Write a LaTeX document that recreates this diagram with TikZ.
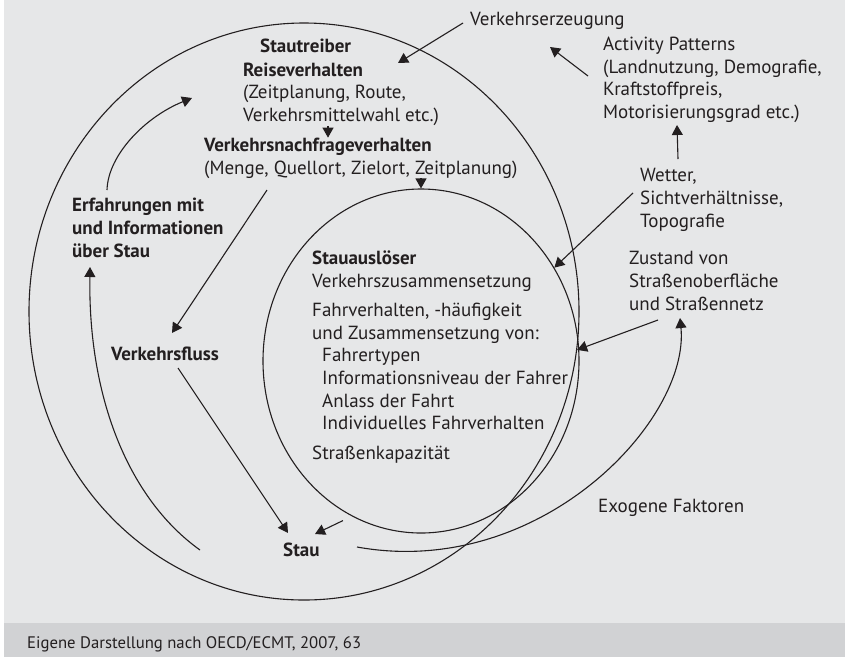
\documentclass[tikz,border=0pt]{standalone}
\usepackage{fontspec}
\setmainfont{PT Sans}
\usetikzlibrary{positioning,shapes.geometric,arrows.meta}
\definecolor{bggray}{HTML}{E6E7E8}
\definecolor{footgray}{HTML}{D1D2D4}
\definecolor{ink}{HTML}{231F20}
\begin{document}
\begin{tikzpicture}[x=1pt,y=-1pt,
  lbl/.style={inner sep=0pt,anchor=base west,align=left,text=ink,font=\fontsize{19}{22.7}\selectfont},
  hd/.style={lbl,font=\fontsize{19}{22.7}\selectfont\bfseries},
  ring/.style={ellipse,draw=ink,line width=1.1pt,inner sep=0pt},
  arr/.style={draw=ink,line width=1.1pt,-{Triangle[length=10pt,width=11pt]}}]
\useasboundingbox (0,0) rectangle (845,657);
\fill[bggray] (4,0) rectangle (845,623);
\fill[footgray] (4,623) rectangle (845,657);
\node[ring,minimum width=550pt,minimum height=577pt](outer) at (304,311.5){};
\node[ring,minimum width=316pt,minimum height=344pt](inner) at (421,361){};
\node[hd](treiber) at (260,52){Stautreiber};
\node[lbl](reise) at (243,121.5){\textbf{Reiseverhalten}\\(Zeitplanung, Route,\\Verkehrsmittelwahl etc.)};
\node[lbl](nachfrage) at (204,174){\textbf{Verkehrsnachfrageverhalten}\\(Menge, Quellort, Zielort, Zeitplanung)};
\node[hd](erfahrung) at (72,257){Erfahrungen mit\\und Informationen\\über Stau};
\node[hd](fluss) at (111,360){Verkehrsfluss};
\node[hd](stau) at (283,556){Stau};
\node[lbl](ausloeser) at (312,459){\textbf{Stauauslöser}\\Verkehrszusammensetzung\\[6.5pt]Fahrverhalten, -häufigkeit\\und Zusammensetzung von:\\\hspace*{10pt}Fahrertypen\\\hspace*{10pt}Informationsniveau der Fahrer\\\hspace*{10pt}Anlass der Fahrt\\\hspace*{10pt}Individuelles Fahrverhalten\\[6.5pt]Straßenkapazität};
\node[lbl](erzeugung) at (470,25){Verkehrserzeugung};
\node[lbl](activity) at (603,118.5){Activity Patterns\\(Landnutzung, Demografie,\\Kraftstoffpreis,\\Motorisierungsgrad etc.)};
\node[lbl](wetter) at (640,227){Wetter,\\Sichtverhältnisse,\\Topografie};
\node[lbl](zustand) at (629,310){Zustand von\\Straßenoberfläche\\und Straßennetz};
\node[lbl](exogen) at (598,512){Exogene Faktoren};
\node[lbl,font=\fontsize{16.7}{20}\selectfont](quelle) at (27,648){Eigene Darstellung nach OECD/ECMT, 2007, 63};
\coordinate (treiberin) at (398,63);
\draw[arr] ([shift={(-7,-2)}]erzeugung.base west) -- (treiberin);
\draw[arr] ([shift={(-15,-42.5)}]activity.base west) -- ([shift={(80,22)}]erzeugung.base west);
\draw[arr] ([shift={(38,-68)}]wetter.base west) -- ([shift={(74,6.5)}]activity.base west);
\draw[arr] ([shift={(-7,-34)}]wetter.base west) -- (inner.35);
\draw[arr] ([shift={(29,10)}]zustand.base west) -- (outer.-8);
\draw[arr] ([shift={(74,-9)}]stau.base west) .. controls +(183,33) and +(10,102) .. ([shift={(51,8)}]zustand.base west);
\draw[arr] ([shift={(-83,-6)}]stau.base west) .. controls +(-70,-50) and +(-2,133) .. ([shift={(18,10)}]erfahrung.base west);
\draw[arr] ([shift={(35,-67)}]erfahrung.base west) .. controls +(1,-35) and +(-47,19) .. ([shift={(-51,-23.5)}]reise.base west);
\draw[arr] ([xshift=124pt]nachfrage.north west |- reise.south) -- ([xshift=124pt]nachfrage.north west);
\draw[arr] (inner.north |- nachfrage.south) -- (inner.north);
\draw[arr] ([shift={(63,16)}]nachfrage.base west) -- ([shift={(61,-27)}]fluss.base west);
\draw[arr] ([shift={(67,8)}]fluss.base west) -- ([shift={(5,-23)}]stau.base west);
\draw[arr] ([shift={(-78,-13)}]inner.south) -- ([shift={(32,-22)}]stau.base west);
\end{tikzpicture}
\end{document}
